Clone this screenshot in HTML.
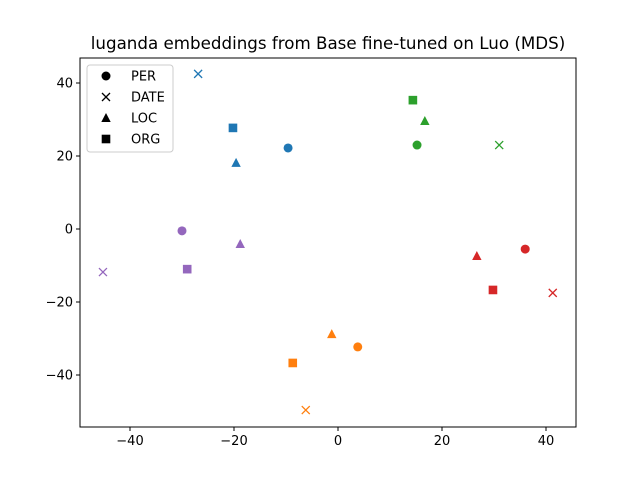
<!DOCTYPE html>
<html><head><meta charset="utf-8"><style>body{margin:0;background:#fff}svg{font-family:"DejaVu Sans","Liberation Sans",sans-serif}</style></head>
<body>
<svg id="c" width="640" height="480" xmlns="http://www.w3.org/2000/svg"></svg>
<script>
const groups=['blue','green','purple','red','orange'];
const colors=['#1f77b4','#2ca02c','#9467bd','#d62728','#ff7f0e'];
const types=['PER','DATE','LOC','ORG'];
const xs=[[-9.6,-26.9,-19.6,-20.2],[15.2,31,16.7,14.4],[-30,-45.2,-18.8,-29],[36,41.3,26.7,29.8],[3.8,-6.2,-1.2,-8.7]];
const ys=[[22.2,42.5,18.1,27.7],[23,23,29.6,35.3],[-0.5,-11.8,-4.1,-11],[-5.5,-17.5,-7.4,-16.7],[-32.3,-49.6,-28.8,-36.7]];
const xticks=[-40,-20,0,20,40];
const yticks=[-40,-20,0,20,40];
const svg=document.getElementById('c');const NS='http://www.w3.org/2000/svg';
const L=80,R=576,T=58,B=427;
const sx=v=>338+v*5.2, sy=v=>229-v*3.65;
function mk(tag,a,name,parent){const e=document.createElementNS(NS,tag);for(const k in a)e.setAttribute(k,a[k]);


(parent||svg).appendChild(e);return e;}
mk('rect',{x:L,y:T,width:R-L,height:B-T,fill:'none',stroke:'#000','stroke-width':1},'plot-frame');
xticks.forEach(t=>{const x=sx(t);mk('line',{x1:x,x2:x,y1:B,y2:B+4,stroke:'#000'},'x-tick');
const tx=mk('text',{x:x,y:B+18,'text-anchor':'middle','font-size':13},'x-tick-label');tx.textContent=t<0?'\u2212'+(-t):t;});
yticks.forEach(t=>{const y=sy(t);mk('line',{x1:L-4,x2:L,y1:y,y2:y,stroke:'#000'},'y-tick');
const tx=mk('text',{x:L-7,y:y+4.5,'text-anchor':'end','font-size':13},'y-tick-label');tx.textContent=t<0?'\u2212'+(-t):t;});
const ti=mk('text',{x:328,y:49,'text-anchor':'middle','font-size':16.7},'chart-title');ti.textContent='luganda embeddings from Base fine-tuned on Luo (MDS)';
function marker(type,x,y,c,name,p){
 if(type==0)mk('circle',{cx:x,cy:y,r:4.5,fill:c},name,p);
 else if(type==1){mk('path',{d:`M${x-4} ${y-4}L${x+4} ${y+4}M${x-4} ${y+4}L${x+4} ${y-4}`,stroke:c,'stroke-width':1.3},name,p);}
 else if(type==2)mk('path',{d:`M${x} ${y-5}L${x+4.7} ${y+4}L${x-4.7} ${y+4}Z`,fill:c},name,p);
 else mk('rect',{x:x-4.3,y:y-4.3,width:8.6,height:8.6,fill:c},name,p);}
groups.forEach((g,i)=>types.forEach((t,j)=>marker(j,sx(xs[i][j]),sy(ys[i][j]),colors[i],'point-'+g+'-'+t.toLowerCase())));
const lg=mk('g',{},'legend');
mk('rect',{x:87,y:65,width:86,height:87,rx:3,fill:'#fff',stroke:'#ccc'},'legend-box',lg);
types.forEach((t,j)=>{const y=76+j*21;marker(j,106,y,'#000','legend-marker-'+t.toLowerCase(),lg);
const tx=mk('text',{x:131,y:y+4.5,'font-size':13},'legend-entry-'+t.toLowerCase(),lg);tx.textContent=t;});
</script>
</body></html>
